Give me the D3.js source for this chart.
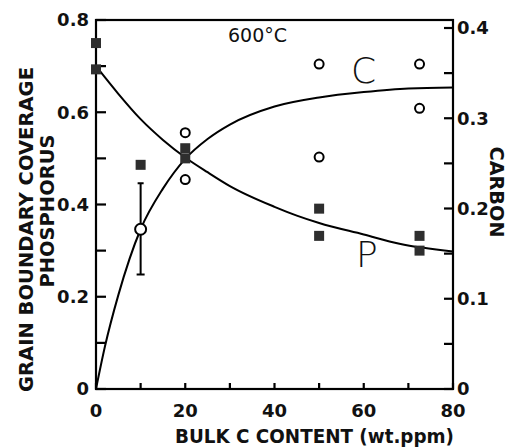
<!DOCTYPE html>
<html>
<head>
<meta charset="utf-8">
<script src="https://cdn.jsdelivr.net/npm/d3@7"></script>
<style>
html,body{margin:0;padding:0;background:#fff;}
svg{display:block;}
text{font-family:"DejaVu Sans",sans-serif;fill:#111;}
</style>
</head>
<body>
<svg id="chart" width="508" height="448"></svg>
<script>
// ---- data ----
const xTicksMajor = [0, 20, 40, 60, 80];
const leftTickLabels = ["0", "0.2", "0.4", "0.6", "0.8"];
const rightTickLabels = ["0", "0.1", "0.2", "0.3", "0.4"];

// phosphorus coverage (left axis), filled squares
const pX = [0, 0, 10, 20, 20, 50, 50, 72.5, 72.5];
const pY = [0.75, 0.693, 0.486, 0.522, 0.50, 0.391, 0.332, 0.332, 0.30];
// carbon coverage (right axis), open circles
const cX = [10, 20, 20, 50, 50, 72.5, 72.5];
const cY = [0.177, 0.284, 0.232, 0.36, 0.257, 0.36, 0.311];
// error bar on the 10 ppm carbon point
const errX = [10];
const errLo = [0.127];
const errHi = [0.228];

// fitted curves
const pCurveX = [0, 5, 10, 15, 20, 25, 30, 40, 45, 50, 60, 68, 80];
const pCurveY = [0.70, 0.64, 0.585, 0.54, 0.502, 0.47, 0.44, 0.395, 0.376, 0.36, 0.335, 0.315, 0.298];
const cCurveX = [0, 2, 5, 10, 15, 20, 25, 30, 40, 50, 60, 70, 80];
const cCurveY = [0, 0.047, 0.104, 0.177, 0.222, 0.255, 0.277, 0.293, 0.313, 0.323, 0.329, 0.333, 0.334];

// ---- layout ----
const L = 96, R = 453, T = 20, B = 389;
const svg = d3.select("#chart");
svg.append("rect").attr("width", 508).attr("height", 448).attr("fill", "#fff");

const x = d3.scaleLinear().domain([0, 80]).range([L, R]);
const yL = d3.scaleLinear().domain([0, 0.8]).range([B, T]);
const yR = d3.scaleLinear().domain([0, 0.4]).range([B, 28]);

const ink = "#000000";
const tickFont = g => g.style("font-size", "18px").style("font-weight", "bold");

// frame (outlined plot box)
svg.append("rect").attr("x", L).attr("y", T).attr("width", R - L).attr("height", B - T)
  .attr("fill", "none").attr("stroke", ink).attr("stroke-width", 2.2);

// ticks (inward)
const xTickVals = d3.range(0, 81, 10);
const yLTickVals = d3.range(0, 9).map(i => i / 10);
const yRTickVals = d3.range(0, 9).map(i => i * 0.05);
const segs = [];
xTickVals.forEach(d => segs.push([x(d), B, x(d), B - 6]));
yLTickVals.forEach(d => segs.push([L, yL(d), L + 10, yL(d)]));
yRTickVals.forEach(d => segs.push([R, yR(d), R - 9, yR(d)]));
svg.append("g").selectAll("path").data(segs).join("path")
  .attr("d", s => `M${s[0]},${s[1]}L${s[2]},${s[3]}`)
  .attr("fill", "none").attr("stroke", ink).attr("stroke-width", 2.2);

// tick labels
svg.append("g").call(tickFont).selectAll("text").data(xTicksMajor).join("text")
  .attr("x", d => x(d)).attr("y", 417).attr("text-anchor", "middle").text(d => String(d));
svg.append("g").call(tickFont).selectAll("text").data(leftTickLabels).join("text")
  .attr("x", 89).attr("y", (d, i) => yL(i * 0.2)).attr("dy", "0.36em")
  .attr("text-anchor", "end").text(d => d);
svg.append("g").call(tickFont).selectAll("text").data(rightTickLabels).join("text")
  .attr("x", 457).attr("y", (d, i) => yR(i * 0.1)).attr("dy", "0.36em")
  .text(d => d);

// curves
const line = d3.line().curve(d3.curveMonotoneX);
const pPts = pCurveX.map((v, i) => [x(v), yL(pCurveY[i])]);
const cPts = cCurveX.map((v, i) => [x(v), yR(cCurveY[i])]);
svg.append("path").attr("d", line(pPts)).attr("fill", "none").attr("stroke", ink).attr("stroke-width", 2);
svg.append("path").attr("d", line(cPts)).attr("fill", "none").attr("stroke", ink).attr("stroke-width", 2);

// error bar
errX.forEach((v, i) => {
  const xe = x(v);
  const ep = d3.path();
  ep.moveTo(xe, yR(errLo[i])); ep.lineTo(xe, yR(errHi[i]));
  ep.moveTo(xe - 3, yR(errHi[i])); ep.lineTo(xe + 3, yR(errHi[i]));
  ep.moveTo(xe - 4, yR(errLo[i])); ep.lineTo(xe + 4, yR(errLo[i]));
  svg.append("path").attr("d", ep.toString()).attr("fill", "none").attr("stroke", ink).attr("stroke-width", 2);
});

// squares (P)
const sq = 10;
svg.append("g").selectAll("rect").data(pX.map((v, i) => [v, pY[i]])).join("rect")
  .attr("x", d => x(d[0]) - sq / 2).attr("y", d => yL(d[1]) - sq / 2)
  .attr("width", sq).attr("height", sq).attr("fill", "#2e2e2e");

// circles (C)
svg.append("g").selectAll("circle").data(cX.map((v, i) => [v, cY[i]])).join("circle")
  .attr("cx", d => x(d[0])).attr("cy", d => yR(d[1]))
  .attr("r", (d, i) => i === 0 ? 5.5 : 4.5)
  .attr("fill", "#fff").attr("stroke", ink).attr("stroke-width", 2);

// annotations
svg.append("text").attr("x", 228).attr("y", 42).style("font-size", "19px").text("600°C");
svg.append("text").attr("x", 351).attr("y", 83).style("font-size", "36px").style("font-weight", "300").text("C");
svg.append("text").attr("x", 356).attr("y", 267).style("font-size", "36px").style("font-weight", "300").text("P");

// axis titles
svg.append("text").attr("transform", "translate(33,229.5) rotate(-90)").attr("text-anchor", "middle")
  .style("font-size", "20px").style("font-weight", "bold")
  .attr("textLength", 325).attr("lengthAdjust", "spacingAndGlyphs")
  .text("GRAIN  BOUNDARY  COVERAGE");
svg.append("text").attr("transform", "translate(54,211) rotate(-90)").attr("text-anchor", "middle")
  .style("font-size", "20px").style("font-weight", "bold")
  .attr("textLength", 153).attr("lengthAdjust", "spacingAndGlyphs")
  .text("PHOSPHORUS");
svg.append("text").attr("transform", "translate(490,192) rotate(90)").attr("text-anchor", "middle")
  .style("font-size", "20px").style("font-weight", "bold")
  .attr("textLength", 91).attr("lengthAdjust", "spacingAndGlyphs")
  .text("CARBON");
svg.append("text").attr("x", 175).attr("y", 443)
  .style("font-size", "20px").style("font-weight", "bold")
  .attr("textLength", 279).attr("lengthAdjust", "spacingAndGlyphs")
  .text("BULK  C  CONTENT (wt.ppm)");
</script>
</body>
</html>
